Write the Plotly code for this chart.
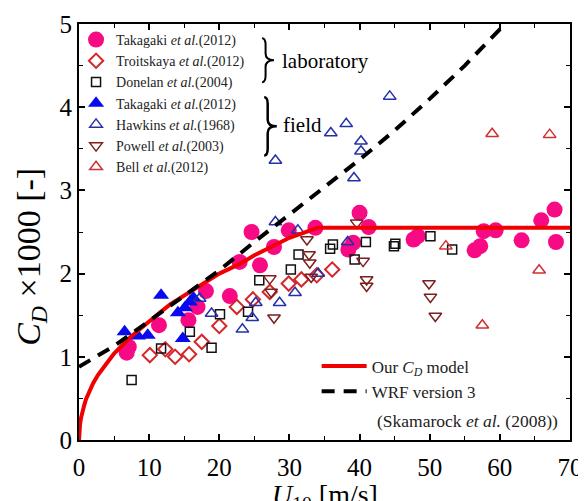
import plotly.graph_objects as go

# ---------------- data ----------------
tak_lab_u = [6.8, 7.1, 11.4, 15.6, 16.9, 18.1, 21.5, 22.9, 24.6, 25.8, 27.8, 29.9, 33.7,
             38.4, 39.1, 40.0, 41.3, 47.7, 48.3, 56.4, 57.2, 57.7, 59.4, 63.1, 65.9, 67.8, 68.0]
tak_lab_cd = [1.05, 1.12, 1.38, 1.44, 1.60, 1.79, 1.73, 2.14, 2.50, 2.10, 2.32, 2.52, 2.55,
              2.29, 2.37, 2.73, 2.56, 2.41, 2.45, 2.28, 2.33, 2.51, 2.52, 2.40, 2.64, 2.77, 2.38]

troit_u = [10.1, 12.3, 13.7, 15.7, 17.5, 20.0, 22.5, 24.8, 27.2, 29.9, 31.7, 33.9, 36.1]
troit_cd = [1.02, 1.09, 1.00, 1.03, 1.18, 1.37, 1.60, 1.69, 1.78, 1.88, 1.93, 1.98, 2.05]

donelan_u = [7.5, 11.7, 15.8, 18.9, 20.1, 24.1, 25.7, 30.2, 31.3, 35.8, 36.2, 39.3, 40.9,
             44.9, 45.1, 50.1, 53.2]
donelan_cd = [0.72, 1.10, 1.30, 1.11, 1.51, 1.54, 1.92, 2.05, 2.23, 2.30, 2.35, 2.17, 2.38,
              2.33, 2.36, 2.45, 2.29]

tak_field_u = [6.5, 8.4, 9.8, 11.7, 14.8, 14.1, 15.1, 15.8, 16.3]
tak_field_cd = [1.30, 1.25, 1.26, 1.74, 1.22, 1.53, 1.59, 1.66, 1.71]

hawkins_u = [17.2, 18.9, 23.3, 24.7, 25.2, 28.0, 28.0, 28.6, 30.8, 31.2, 34.1, 35.9, 38.1,
             38.3, 39.2, 40.2, 40.2, 44.3]
hawkins_cd = [1.70, 1.52, 1.33, 1.47, 1.65, 2.62, 3.36, 1.65, 1.77, 2.52, 2.00, 3.69, 3.80,
              2.38, 3.15, 3.59, 3.47, 4.13]

powell_u = [27.2, 27.4, 27.8, 32.5, 32.8, 32.9, 33.1, 39.6, 40.5, 41.0, 41.0, 49.9, 50.1, 50.8]
powell_cd = [1.94, 1.78, 1.47, 2.41, 2.23, 2.13, 1.96, 2.61, 2.15, 1.93, 1.85, 1.88, 1.72, 1.49]

bell_u = [52.3, 57.5, 58.9, 65.6, 67.1]
bell_cd = [2.33, 1.38, 3.68, 2.04, 3.67]

model_u = [0, 0.05, 0.15, 0.3, 0.5, 0.75, 1, 1.5, 2, 2.7, 3.5, 4.2, 5, 6, 7, 8.5, 10, 11.5,
           13, 14.5, 16, 18, 20, 21.5, 23, 25, 27, 28.5, 30, 32, 34, 70]
model_cd = [0, 0.12, 0.19, 0.27, 0.35, 0.42, 0.49, 0.59, 0.68, 0.78, 0.88, 0.95, 1.04, 1.13,
            1.21, 1.32, 1.43, 1.53, 1.63, 1.71, 1.79, 1.89, 2.0, 2.06, 2.12, 2.22, 2.30,
            2.37, 2.43, 2.49, 2.55, 2.55]

wrf_u = [0, 5, 10, 15, 20, 25, 30, 35, 40, 45, 50, 55, 60.5]
wrf_cd = [0.88, 1.13, 1.43, 1.73, 2.04, 2.38, 2.71, 3.04, 3.37, 3.72, 4.10, 4.50, 4.98]

x_ticks = [0, 10, 20, 30, 40, 50, 60, 70]
y_ticks = [0, 1, 2, 3, 4, 5]

FONT = "Liberation Serif"

fig = go.Figure()

def add_pts(u, cd, name, symbol, size, color, lw=1.5):
    fig.add_trace(go.Scatter(
        x=u, y=cd, mode="markers", name=name, legend="legend",
        marker=dict(symbol=symbol, size=size, color=color,
                    line=dict(color=color, width=lw))))

add_pts(tak_lab_u, tak_lab_cd, "Takagaki <i>et al.</i>(2012)", "circle", 16, "#F70A83", 0)
add_pts(troit_u, troit_cd, "Troitskaya <i>et al.</i>(2012)", "diamond-open", 11, "#D4262B", 2)
add_pts(donelan_u, donelan_cd, "Donelan <i>et al.</i>(2004)", "square-open", 9, "#111111", 1.5)
add_pts(tak_field_u, tak_field_cd, "Takagaki <i>et al.</i>(2012)", "triangle-up", 14, "#0A0AEF", 0)
add_pts(hawkins_u, hawkins_cd, "Hawkins <i>et al.</i>(1968)", "triangle-up-open", 11, "#2430A8", 1.5)
add_pts(powell_u, powell_cd, "Powell <i>et al.</i>(2003)", "triangle-down-open", 11, "#7A1E1E", 1.5)
add_pts(bell_u, bell_cd, "Bell <i>et al.</i>(2012)", "triangle-up-open", 11, "#D03030", 1.5)

fig.add_trace(go.Scatter(x=model_u, y=model_cd, mode="lines", legend="legend2",
                         name="Our <i>C</i><sub><i>D</i></sub> model",
                         line=dict(color="#F00000", width=4)))
fig.add_trace(go.Scatter(x=wrf_u, y=wrf_cd, mode="lines", legend="legend2",
                         name="WRF version 3",
                         line=dict(color="black", width=4, dash="13px,9px")))

fig.add_annotation(xref="paper", yref="paper", x=0.603, y=0.046,
                   text="(Skamarock <i>et al.</i> (2008))", showarrow=False,
                   xanchor="left", yanchor="middle",
                   font=dict(family=FONT, size=17.5, color="#222"))

# braces
def brace(x0, yt, yb, w):
    ym = (yt + yb) / 2
    e = 0.08
    d = 0.5
    return (f"M {x0-d},{yt} Q {x0},{yt} {x0},{yt-e} L {x0},{ym+e} "
            f"Q {x0},{ym} {x0+w},{ym} Q {x0},{ym} {x0},{ym-e} "
            f"L {x0},{yb+e} Q {x0},{yb} {x0-d},{yb}")

fig.add_shape(type="path", path=brace(26.6, 4.83, 4.30, 1.2), line=dict(color="black", width=2))
fig.add_shape(type="path", path=brace(26.9, 4.12, 3.42, 1.3), line=dict(color="black", width=2.5))
fig.add_annotation(x=28.6, y=4.56, text="laboratory", showarrow=False, xanchor="left",
                   font=dict(family=FONT, size=21, color="black"))
fig.add_annotation(x=28.8, y=3.79, text="field", showarrow=False, xanchor="left",
                   font=dict(family=FONT, size=21, color="black"))

# axis titles
fig.add_annotation(xref="paper", yref="paper", x=-0.098, y=0.44, textangle=-90,
                   text="<i>C</i><sub><i>D</i></sub> ×1000 [-]", showarrow=False,
                   xanchor="center", yanchor="middle",
                   font=dict(family=FONT, size=34, color="black"))
fig.add_annotation(xref="paper", yref="paper", x=0.5, y=-0.136,
                   text="<i>U</i><sub>10</sub> [m/s]", showarrow=False,
                   xanchor="center", yanchor="middle",
                   font=dict(family=FONT, size=28, color="black"))

axis_common = dict(showline=True, linecolor="black", linewidth=2, mirror="allticks",
                   ticks="inside", ticklen=6, tickwidth=1.5, tickcolor="black",
                   showgrid=False, zeroline=False, automargin=False,
                   tickfont=dict(family=FONT, size=25, color="black"))

fig.update_layout(
    width=578, height=493,
    margin=dict(l=71, r=16, t=16, b=61, autoexpand=False),
    paper_bgcolor="white", plot_bgcolor="white",
    font=dict(family=FONT, color="black"),
    xaxis=dict(range=[0, 70], tickvals=x_ticks, ticklabelstandoff=4,
               minor=dict(dtick=5, ticks="inside", ticklen=4, tickwidth=1.2, tickcolor="black"),
               **axis_common),
    yaxis=dict(range=[0, 5], tickvals=y_ticks,
               minor=dict(dtick=0.5, ticks="inside", ticklen=4, tickwidth=1.2, tickcolor="black"),
               **axis_common),
    legend=dict(x=-0.006, y=1.0, xanchor="left", yanchor="top", bgcolor="rgba(0,0,0,0)",
                font=dict(family=FONT, size=14, color="#222"), tracegroupgap=0,
                itemsizing="trace", traceorder="normal"),
    legend2=dict(x=0.484, y=0.22, xanchor="left", yanchor="top", bgcolor="rgba(0,0,0,0)",
                 font=dict(family=FONT, size=17, color="#222"), traceorder="normal",
                 itemwidth=45),
)

fig.write_html("out.html")
